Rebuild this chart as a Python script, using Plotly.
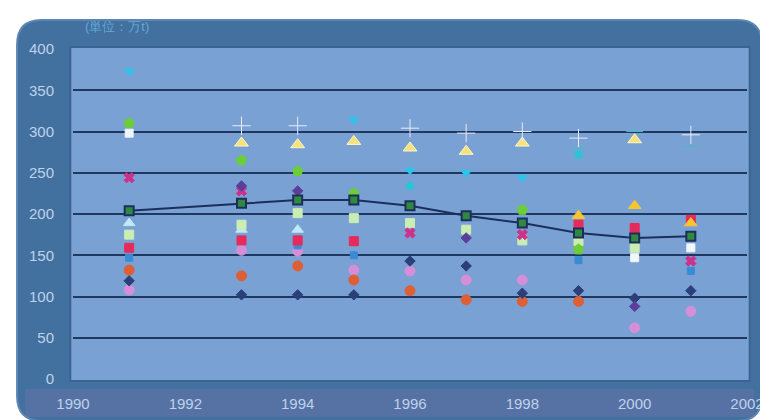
import plotly.graph_objects as go

years = [1991, 1993, 1994, 1995, 1996, 1997, 1998, 1999, 2000, 2001]
x_ticks = [1990, 1992, 1994, 1996, 1998, 2000, 2002]
y_ticks = [0, 50, 100, 150, 200, 250, 300, 350, 400]

s_line = [204, 213, 217, 217, 210, 198, 189, 177, 171, 173]
s_cross = [None, 307, 307, None, 304, 298, 300, 292, None, 296]
s_teal_cross = [None, None, None, None, None, None, None, 280, 300, 282]
s_yellow_tri = [None, 286, 284, 288, 280, 276, 286, None, 290, None]
s_cyan_down = [373, None, None, 314, 253, 250, 244, None, None, None]
s_cyan2 = [None, None, None, None, 234, None, None, 272, None, None]
s_green = [310, 265, 252, 225, None, None, 205, 157, None, None]
s_white = [298, None, None, None, None, None, None, None, 147, 159]
s_magenta_x = [244, 228, None, None, 177, None, 175, None, None, 143]
s_purple = [None, 234, 228, None, None, 171, None, None, 88, None]
s_lightgreen = [175, 187, 201, 195, 189, 181, 168, 167, 159, None]
s_lightcyan = [189, 181, 181, None, None, None, None, None, None, None]
s_red = [159, 168, 168, 167, None, None, None, 187, 183, 193]
s_orange = [132, 125, 137, 120, 107, 96, 94, 94, None, None]
s_lilac = [108, 156, 155, 132, 131, 120, 120, None, 62, 82]
s_navy = [119, 102, 102, 102, 143, 137, 104, 107, 98, 107]
s_blue = [147, None, 162, 150, None, None, None, 144, None, 131]
s_gold_tri = [None, None, None, None, None, None, None, 198, 210, 189]

fig = go.Figure()

def pts(vals, color, symbol, size=9, line_color=None):
    fig.add_trace(go.Scatter(
        x=years, y=vals, mode="markers",
        marker=dict(color=color, symbol=symbol, size=size,
                    line=dict(color=line_color or color, width=1)),
        hoverinfo="x+y", showlegend=False))

pts(s_lilac, "#d58fd8", "circle", 10)
pts(s_orange, "#df5f35", "circle", 10)
pts(s_navy, "#2b3f7a", "diamond", 8)
pts(s_blue, "#3a8bd6", "square", 7)
pts(s_red, "#e62a5c", "square", 9)
pts(s_lightcyan, "#bfe9f6", "triangle-up", 10)
pts(s_lightgreen, "#c9edb2", "square", 9)
pts(s_white, "#f2f5f9", "square", 8)
pts(s_magenta_x, "#cf3089", "x", 9)
pts(s_purple, "#5a3f9a", "diamond", 8)
pts(s_green, "#6ccc3a", "pentagon", 11)
pts(s_cyan2, "#2fc2d8", "circle", 8)
pts(s_cyan_down, "#2ec3ea", "triangle-down", 9)
pts(s_gold_tri, "#f7c52e", "triangle-up", 11)
pts(s_yellow_tri, "#f4e27a", "triangle-up", 12, "#fff6c8")
pts(s_teal_cross, "#3fbfbf", "line-ew", 12, "#3fbfbf")
pts(s_cross, "#e9eaf2", "cross-thin", 13, "#e9eaf2")

fig.add_trace(go.Scatter(
    x=years, y=s_line, mode="lines+markers",
    line=dict(color="#1c2f5c", width=2),
    marker=dict(symbol="square", size=9, color="#2f8a3f",
                line=dict(color="#1c2f5c", width=2)),
    hoverinfo="x+y", showlegend=False))

# panel decoration (rounded dark frame)
L, R, T, B = -0.083, 1.022, 1.088, -0.127
rx, ry = 0.036, 0.076
path = (f"M {L+rx},{B} L {R-rx},{B} Q {R},{B} {R},{B+ry} L {R},{T-ry} "
        f"Q {R},{T} {R-rx},{T} L {L+rx},{T} Q {L},{T} {L},{T-ry} "
        f"L {L},{B+ry} Q {L},{B} {L+rx},{B} Z")
fig.add_shape(type="path", path=path, xref="paper", yref="paper",
              fillcolor="#42709f", line=dict(color="#5b86b3", width=2), layer="below")
fig.add_shape(type="rect", xref="paper", yref="paper", x0=L + 0.012, x1=R - 0.012,
              y0=-0.115, y1=-0.03, fillcolor="rgba(140,120,180,0.28)",
              line=dict(width=0), layer="below")
fig.add_shape(type="rect", xref="paper", yref="paper", x0=-0.004, x1=1.004,
              y0=-0.006, y1=1.006, fillcolor="#7aa1d4",
              line=dict(color="#3a6392", width=2), layer="below")

fig.update_layout(
    width=768, height=420,
    margin=dict(l=65, r=18, t=41, b=49),
    paper_bgcolor="white",
    plot_bgcolor="#7aa1d4",
    font=dict(family="Liberation Sans, Arial, sans-serif", size=15, color="#bfd2ea"),
    xaxis=dict(range=[1990, 2002], tickvals=x_ticks, showgrid=False, zeroline=False,
               showline=False, ticks="", ticklabelstandoff=14),
    yaxis=dict(range=[0, 400], tickvals=y_ticks, showgrid=True, gridcolor="#1f3860",
               gridwidth=2, zeroline=False, showline=False, ticks="",
               ticklabelstandoff=18),
    annotations=[dict(text="(単位：万t)", xref="paper", yref="paper", x=0.015, y=1.068,
                      xanchor="left", yanchor="middle", showarrow=False,
                      font=dict(size=13, color="#62a9d6"))],
)

fig.write_html("out.html")
